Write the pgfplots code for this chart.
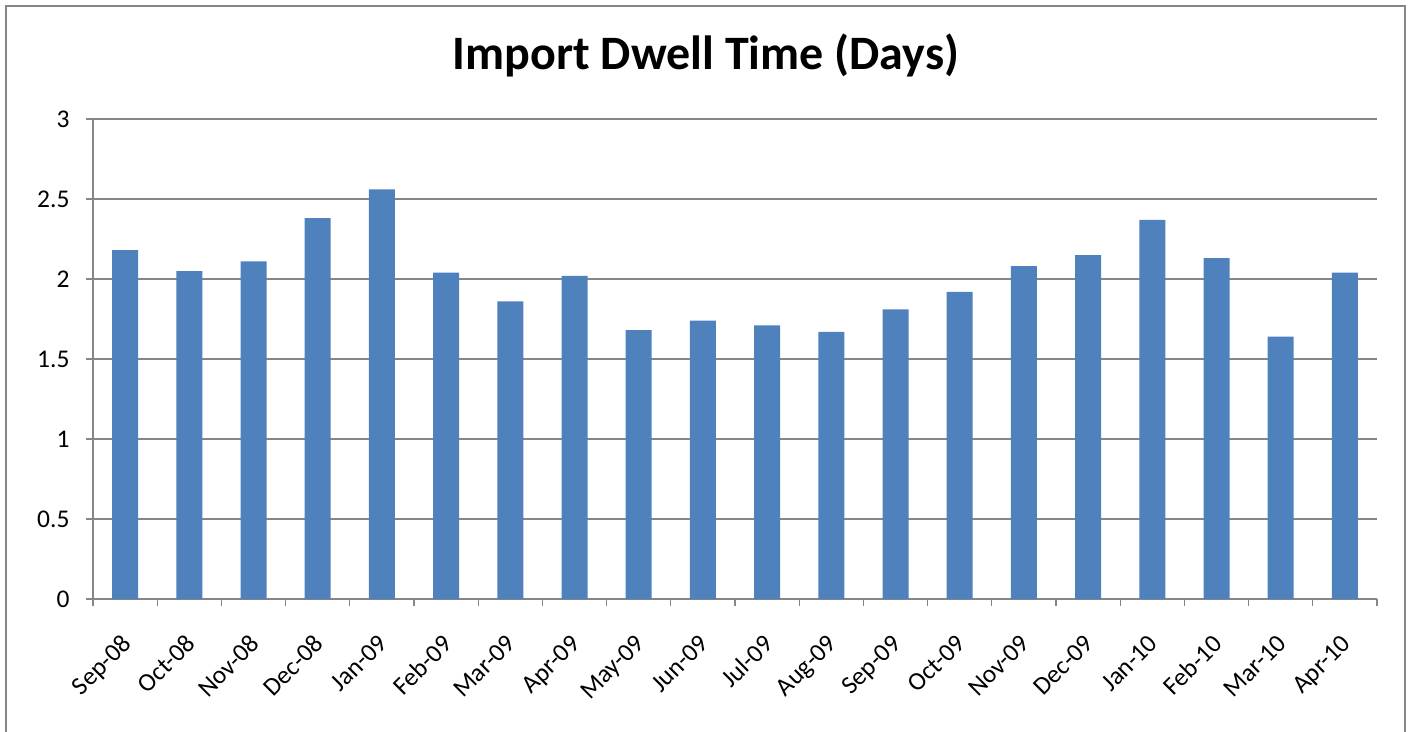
\documentclass[border=0pt]{standalone}
\usepackage{pgfplots}
\pgfplotsset{compat=1.18}
\usepackage{fontspec}
\setmainfont{Carlito}
\definecolor{barblue}{HTML}{4F81BD}
\definecolor{axgray}{HTML}{868686}
\begin{document}
\begin{tikzpicture}
\useasboundingbox (0pt,0pt) rectangle (1410pt,-731pt);
\fill[white] (0pt,0pt) rectangle (1410pt,-731pt);
\draw[axgray, line width=2pt] (6pt,-6pt) rectangle (1405pt,-760pt);
\node[font=\fontsize{48}{52}\selectfont\bfseries, anchor=base] at (706pt,-69pt) {Import Dwell Time (Days)};
\begin{axis}[
  at={(93pt,-599pt)}, anchor=south west,
  scale only axis, width=1284pt, height=480pt,
  xmin=-0.5, xmax=19.5, ymin=0, ymax=3,
  axis lines*=left,
  axis line style={axgray, line width=1.5pt},
  ymajorgrids, grid style={axgray, line width=1.3pt},
  ytick={0,0.5,1,1.5,2,2.5,3},
  xtick={-0.5,0.5,...,19.5},
  xticklabels={},
  extra x ticks={0,...,19},
  extra x tick labels={Sep-08,Oct-08,Nov-08,Dec-08,Jan-09,Feb-09,Mar-09,Apr-09,May-09,Jun-09,Jul-09,Aug-09,Sep-09,Oct-09,Nov-09,Dec-09,Jan-10,Feb-10,Mar-10,Apr-10},
  extra x tick style={major tick length=0pt, xticklabel style={font=\fontsize{25.5}{29}\selectfont, yshift=-34pt, xshift=-5pt, rotate=45, anchor=north east, inner sep=0pt}},
  tick align=outside,
  major tick length=7pt,
  tick style={axgray, line width=1.3pt},
  /pgf/number format/assume math mode=true,
  ticklabel style={font=\fontsize{25.5}{29}\selectfont, text=black},
  yticklabel style={xshift=-13pt},
  clip=false,
]
\addplot[ybar, bar width=26pt, fill=barblue, draw=none] coordinates {
(0,2.18) (1,2.05) (2,2.11) (3,2.38) (4,2.56) (5,2.04) (6,1.86) (7,2.02) (8,1.68) (9,1.74)
(10,1.71) (11,1.67) (12,1.81) (13,1.92) (14,2.08) (15,2.15) (16,2.37) (17,2.13) (18,1.64) (19,2.04)
};
\end{axis}
\end{tikzpicture}
\end{document}
